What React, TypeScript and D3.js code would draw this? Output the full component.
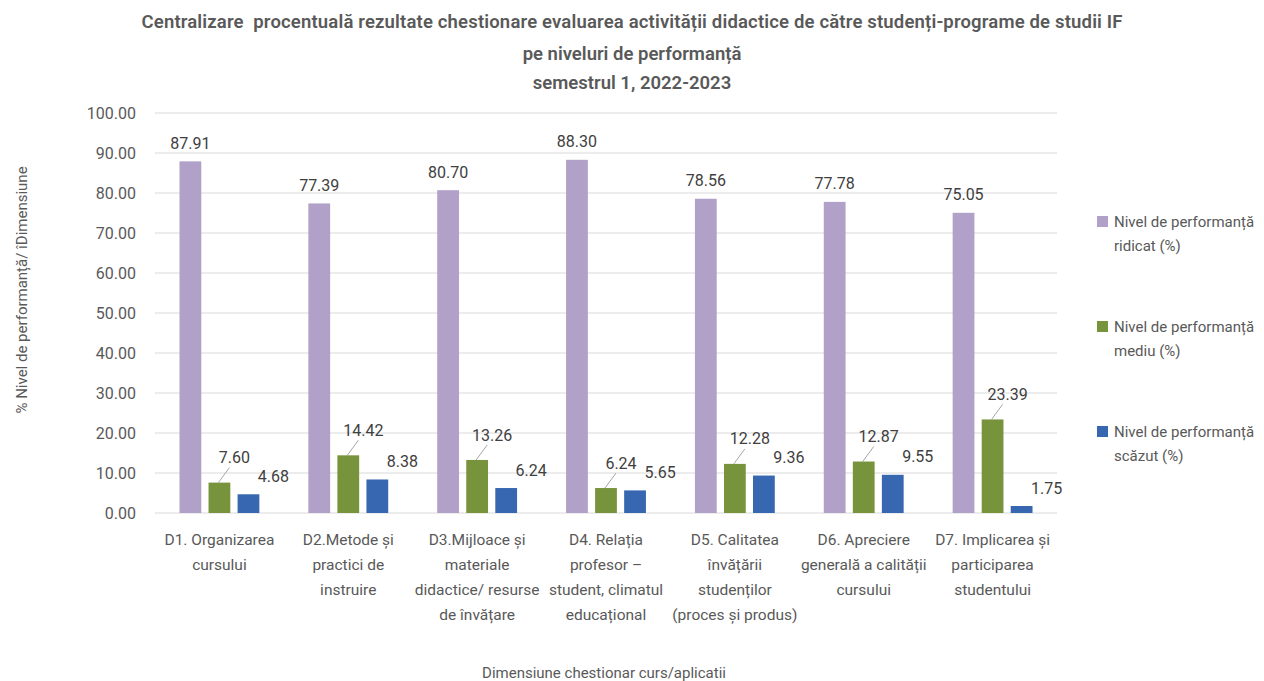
import * as d3 from "d3";

const categories: string[][] = [
  ["D1. Organizarea", "cursului"],
  ["D2.Metode și", "practici de", "instruire"],
  ["D3.Mijloace și", "materiale", "didactice/ resurse", "de învățare"],
  ["D4. Relația", "profesor –", "student, climatul", "educațional"],
  ["D5. Calitatea", "învățării", "studenților", "(proces și produs)"],
  ["D6. Apreciere", "generală a calității", "cursului"],
  ["D7. Implicarea și", "participarea", "studentului"],
];

const ridicat = [87.91, 77.39, 80.7, 88.3, 78.56, 77.78, 75.05];
const mediu = [7.6, 14.42, 13.26, 6.24, 12.28, 12.87, 23.39];
const scazut = [4.68, 8.38, 6.24, 5.65, 9.36, 9.55, 1.75];

const seriesNames = [
  ["Nivel de performanță", "ridicat (%)"],
  ["Nivel de performanță", "mediu (%)"],
  ["Nivel de performanță", "scăzut (%)"],
];
const yTicks = [0, 10, 20, 30, 40, 50, 60, 70, 80, 90, 100];

const titleLines = [
  "Centralizare  procentuală rezultate chestionare evaluarea activității didactice de către studenți-programe de studii IF",
  "pe niveluri de performanță",
  "semestrul 1, 2022-2023",
];

const COLORS = ["#B1A0C7", "#77933C", "#3767B1"];
const FONT = "Roboto, 'Open Sans', sans-serif";
const W = 1264;
const H = 681;

export default function App() {
  const left = 155;
  const right = 1057;
  const top = 113;
  const bottom = 513;

  const series = [ridicat, mediu, scazut];
  const keys = ["r", "m", "s"];

  const x0 = d3
    .scaleBand<number>()
    .domain(categories.map((_, i) => i))
    .range([left, right]);
  const x1 = d3
    .scaleBand<string>()
    .domain(keys)
    .range([24.5, x0.bandwidth() - 24.5])
    .paddingInner(0.25);
  const y = d3.scaleLinear().domain([0, 100]).range([bottom, top]);
  const fmt = d3.format(".2f");

  return (
    <svg
      width={W}
      height={H}
      style={{ position: "absolute", left: 0, top: 0, background: "#fff" }}
      fontFamily={FONT}
    >
      {/* title */}
      {titleLines.map((t, i) => (
        <text
          key={i}
          x={632}
          y={[28, 60, 89][i]}
          textAnchor="middle"
          fontSize={18.5}
          fontWeight={600}
          fill="#595959"
          style={{ whiteSpace: "pre" }}
          textLength={i === 0 ? 981 : undefined}
          lengthAdjust="spacing"
        >
          {t}
        </text>
      ))}

      {/* grid */}
      {yTicks.map((t) => (
        <g key={t}>
          <line
            x1={left}
            x2={right}
            y1={y(t)}
            y2={y(t)}
            stroke="#d9d9d9"
            strokeWidth={1}
          />
          <text
            x={136}
            y={y(t)}
            dy="0.35em"
            textAnchor="end"
            fontSize={16}
            fill="#595959"
          >
            {fmt(t)}
          </text>
        </g>
      ))}

      {/* bars */}
      {categories.map((_, ci) => (
        <g key={ci} transform={`translate(${x0(ci)},0)`}>
          {series.map((vals, si) => {
            const v = vals[ci];
            const bx = x1(keys[si])!;
            const bw = x1.bandwidth();
            const cx = bx + bw / 2;
            const ty = y(v);
            let label;
            if (si === 0) {
              label = (
                <text
                  x={cx}
                  y={ty - 18}
                  dy="0.35em"
                  textAnchor="middle"
                  fontSize={16}
                  fill="#404040"
                >
                  {fmt(v)}
                </text>
              );
            } else if (si === 1) {
              const lx = cx + 15;
              const ly = ty - 25;
              label = (
                <g>
                  <line
                    x1={cx - 1}
                    y1={ty}
                    x2={lx - 5}
                    y2={ly + 10}
                    stroke="#a6a6a6"
                    strokeWidth={1}
                  />
                  <text
                    x={lx}
                    y={ly}
                    dy="0.35em"
                    textAnchor="middle"
                    fontSize={16}
                    fill="#404040"
                  >
                    {fmt(v)}
                  </text>
                </g>
              );
            } else {
              label = (
                <text
                  x={cx + 25}
                  y={ty - 18}
                  dy="0.35em"
                  textAnchor="middle"
                  fontSize={16}
                  fill="#404040"
                >
                  {fmt(v)}
                </text>
              );
            }
            return (
              <g key={si}>
                <rect
                  x={bx}
                  y={ty}
                  width={bw}
                  height={bottom - ty}
                  fill={COLORS[si]}
                />
                {label}
              </g>
            );
          })}
          {categories[ci].map((line, li) => (
            <text
              key={li}
              x={x0.bandwidth() / 2}
              y={540 + li * 25}
              dy="0.35em"
              textAnchor="middle"
              fontSize={15.5}
              fill="#595959"
            >
              {line}
            </text>
          ))}
        </g>
      ))}

      {/* axis titles */}
      <text
        transform={`translate(22,${290}) rotate(-90)`}
        textAnchor="middle"
        dy="0.35em"
        fontSize={15}
        fill="#595959"
      >
        % Nivel de performanță/ îDimensiune
      </text>
      <text
        x={604}
        y={673}
        dy="0.35em"
        textAnchor="middle"
        fontSize={15}
        fill="#595959"
      >
        Dimensiune chestionar curs/aplicatii
      </text>

      {/* legend */}
      {seriesNames.map((lines, i) => {
        const ly = 222 + i * 105;
        return (
          <g key={i}>
            <rect x={1097} y={ly - 6} width={11} height={11} fill={COLORS[i]} />
            {lines.map((l, li) => (
              <text
                key={li}
                x={1114}
                y={ly + li * 24}
                dy="0.35em"
                fontSize={15}
                fill="#595959"
              >
                {l}
              </text>
            ))}
          </g>
        );
      })}
    </svg>
  );
}
